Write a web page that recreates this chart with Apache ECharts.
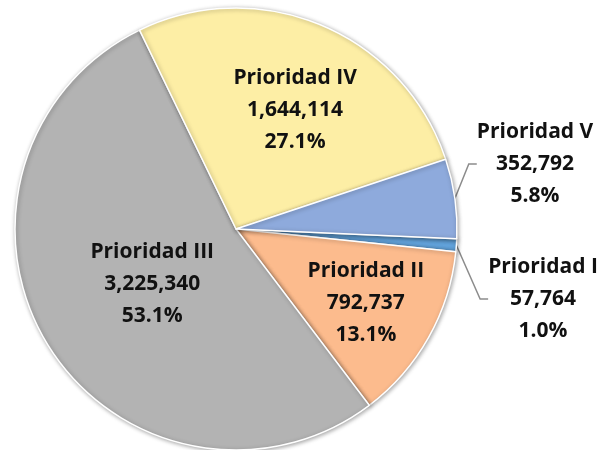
<!DOCTYPE html>
<html>
<head>
<meta charset="utf-8">
<script src="https://cdn.jsdelivr.net/npm/echarts@6/dist/echarts.min.js"></script>
<style>
  html, body { margin: 0; padding: 0; background: #fff; }
  #chart { width: 610px; height: 450px; }
</style>
</head>
<body>
<div id="chart"></div>
<script>
// datos del gráfico
const categorias = ['Prioridad I', 'Prioridad II', 'Prioridad III', 'Prioridad IV', 'Prioridad V']
const valores = [57764, 792737, 3225340, 1644114, 352792]
const colores = ['#62a2da', '#fcbb8d', '#b3b3b3', '#fdeea5', '#8eaadc']

const total = valores.reduce((a, b) => a + b, 0)

// ajuste de etiquetas (índice -> desplazamiento o posición)
const ajusteEtiquetas = {
  0: { x: 543, y: 299, align: 'center', verticalAlign: 'middle' },
  1: { dx: 31, dy: 18 },
  2: { dx: 13, dy: -4 },
  3: { dx: 15, dy: -14 },
  4: { x: 535, y: 164, align: 'center', verticalAlign: 'middle' }
}

const chart = echarts.init(document.getElementById('chart'))

const datos = categorias.map((nombre, i) => {
  const fuera = i === 0 || i === 4
  return {
    name: nombre,
    value: valores[i],
    itemStyle: { color: colores[i] },
    label: { position: fuera ? 'outside' : 'inside' },
    labelLine: { show: fuera }
  }
})

chart.setOption({
  backgroundColor: '#fff',
  animation: false,
  series: [{
    type: 'pie',
    center: [236, 229],
    radius: 221,
    startAngle: -2.5,
    clockwise: true,
    avoidLabelOverlap: false,
    data: datos,
    itemStyle: {
      borderColor: '#ffffff',
      borderWidth: 1.5,
      shadowColor: 'rgba(0,0,0,0.35)',
      shadowBlur: 4,
      shadowOffsetX: 1,
      shadowOffsetY: 1
    },
    label: {
      fontFamily: 'Open Sans',
      fontWeight: 'bold',
      fontSize: 21,
      lineHeight: 32,
      color: '#111',
      align: 'center',
      formatter: p => p.name + '\n' + p.value.toLocaleString('en-US') + '\n' + (p.value / total * 100).toFixed(1) + '%'
    },
    labelLine: {
      length: 20,
      length2: 8,
      lineStyle: { color: '#8c8c8c', width: 1.5 }
    },
    labelLayout: params => ajusteEtiquetas[params.dataIndex]
  }]
})
</script>
</body>
</html>
